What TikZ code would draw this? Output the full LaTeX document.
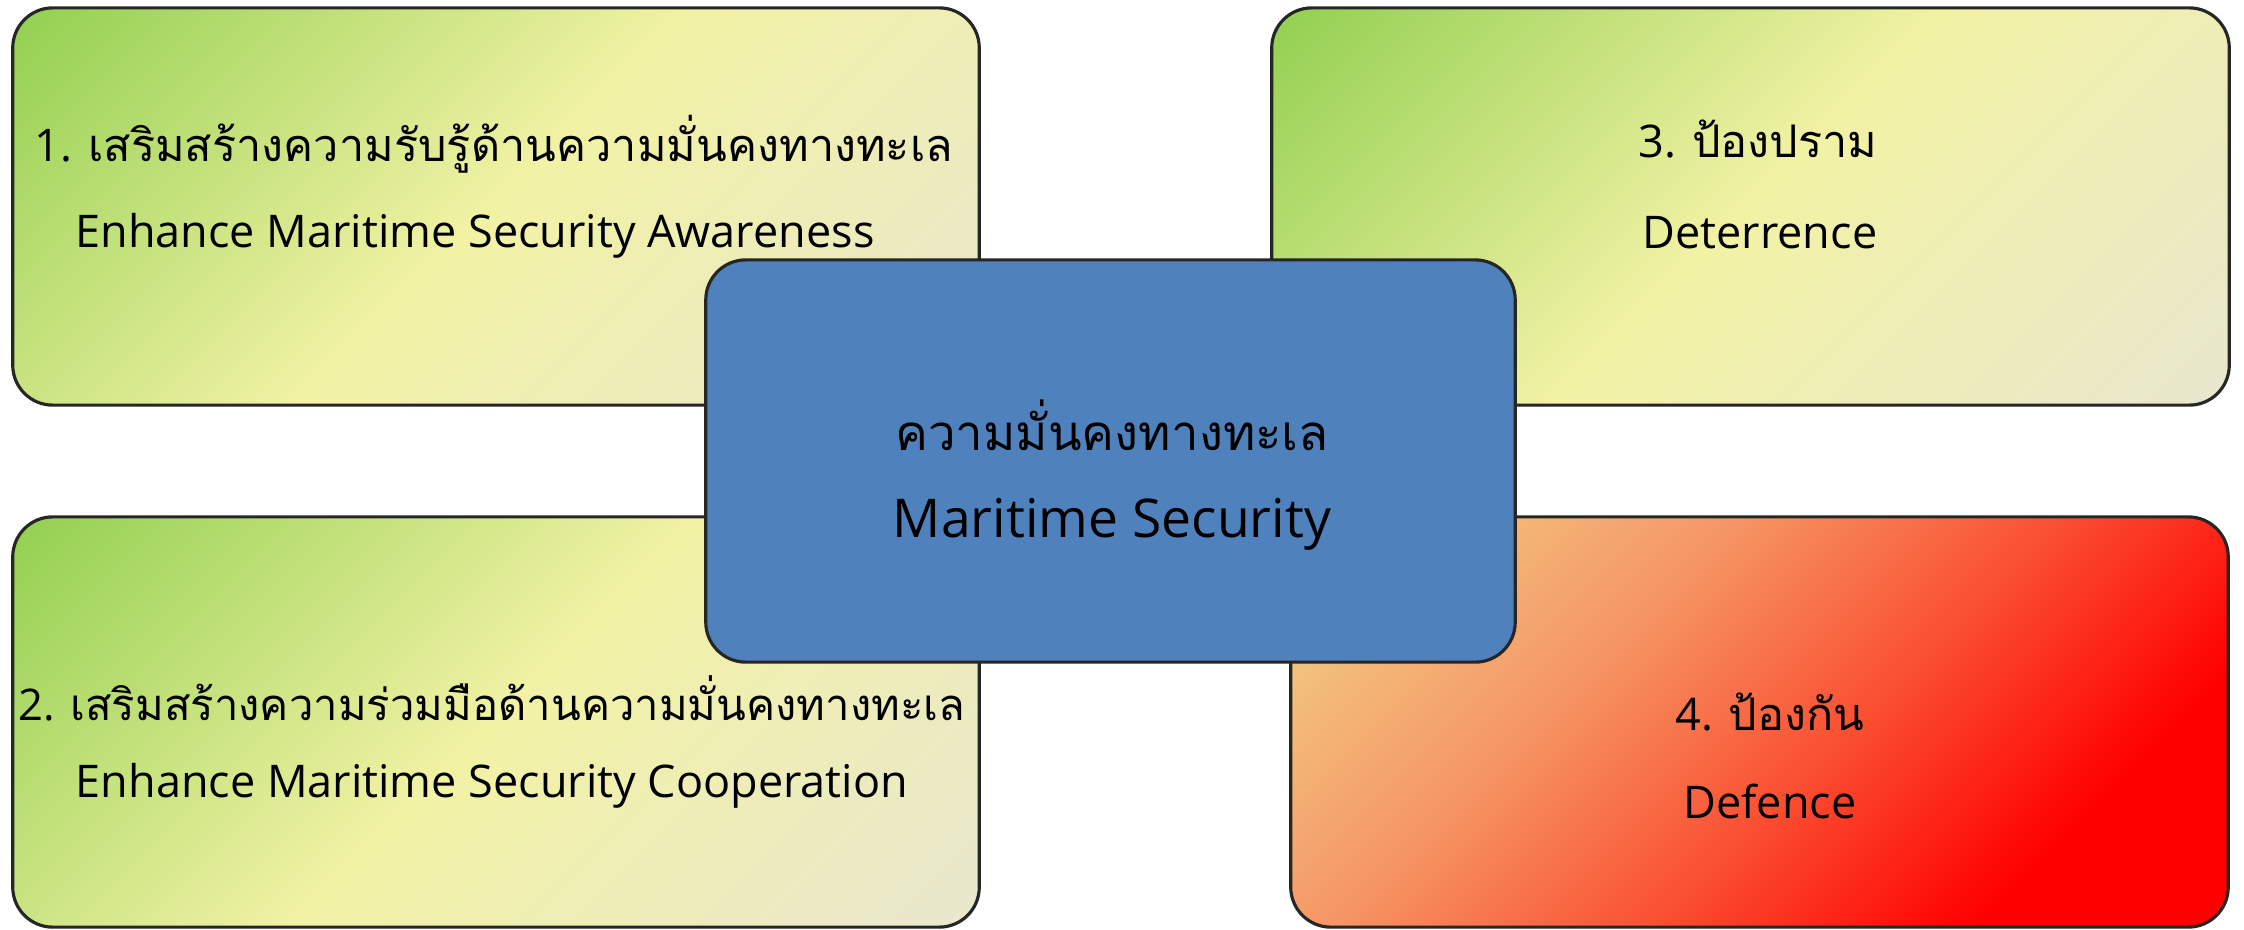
\documentclass[tikz,border=0pt]{standalone}
\usepackage{fontspec}
\setmainfont{Open Sans}
\newfontfamily\thaifont[Script=Thai]{Loma}
\newcommand\thai[1]{{\thaifont #1}}

\definecolor{leafgreen}{RGB}{146,208,80}
\definecolor{paleyellow}{RGB}{242,242,165}
\definecolor{paper}{RGB}{233,231,206}
\definecolor{sand}{RGB}{242,216,140}
\definecolor{coral}{RGB}{245,150,100}
\definecolor{flame}{RGB}{250,80,50}
\definecolor{alarm}{RGB}{255,0,0}
\definecolor{seablue}{RGB}{79,129,189}

% diagonal fills, stops placed for a 45 degree turn
\pgfdeclarehorizontalshading{greenfade}{100bp}{color(0bp)=(leafgreen); color(14.6bp)=(leafgreen); color(50bp)=(paleyellow); color(85.4bp)=(paper); color(100bp)=(paper)}
\pgfdeclarehorizontalshading{redfade}{100bp}{color(0bp)=(sand); color(14.6bp)=(sand); color(38bp)=(coral); color(55bp)=(flame); color(72bp)=(alarm); color(100bp)=(alarm)}

\begin{document}
\begin{tikzpicture}[x=0.01cm, y=-0.01cm,
		card/.style={draw=black!85, line width=0.9pt, rounded corners=0.4cm, inner sep=0pt, outer sep=0pt},
		thline/.style={anchor=base, font=\fontsize{12.8}{15}\selectfont},
		enline/.style={anchor=base, font=\fontsize{12.8}{15}\selectfont}]
			\useasboundingbox (0,0) rectangle (2244,930);

			\node (b1)[card, shade, shading=greenfade, shading angle=-45, minimum width=9.66cm, minimum height=3.97cm] at (496,206.5) {};
			\node (b3)[card, shade, shading=greenfade, shading angle=-45, minimum width=9.57cm, minimum height=3.97cm] at (1750.5,206.5) {};
			\node (b2)[card, shade, shading=greenfade, shading angle=-45, minimum width=9.66cm, minimum height=4.10cm] at (496,722) {};
			\node (b4)[card, shade, shading=redfade, shading angle=-45, minimum width=9.37cm, minimum height=4.10cm] at (1759.5,722) {};

			\node (b1th)[thline] at (494,161) {1. \thai{เสริมสร้างความรับรู้ด้านความมั่นคงทางทะเล}};
			\node (b1en)[enline] at (475,247) {Enhance Maritime Security Awareness};
			\node (b3th)[thline] at (1758,157) {3. \thai{ป้องปราม}};
			\node (b3en)[enline] at (1760,248) {Deterrence};
			\node (b2th)[thline, font=\fontsize{12.4}{15}\selectfont] at (492,720) {2. \thai{เสริมสร้างความร่วมมือด้านความมั่นคงทางทะเล}};
			\node (b2en)[enline] at (492,797) {Enhance Maritime Security Cooperation};
			\node (b4th)[thline] at (1770,730) {4. \thai{ป้องกัน}};
			\node (b4en)[enline] at (1770,818) {Defence};

			\node (core)[card, fill=seablue, minimum width=8.09cm, minimum height=4.02cm] at (1110.5,461) {};
			\node (coreth)[thline, font=\fontsize{14}{16}\selectfont] at (1112,450) {\thai{ความมั่นคงทางทะเล}};
			\node (coreen)[enline, font=\fontsize{15.2}{17}\selectfont] at (1112,537) {Maritime Security};
		\end{tikzpicture}
\end{document}
